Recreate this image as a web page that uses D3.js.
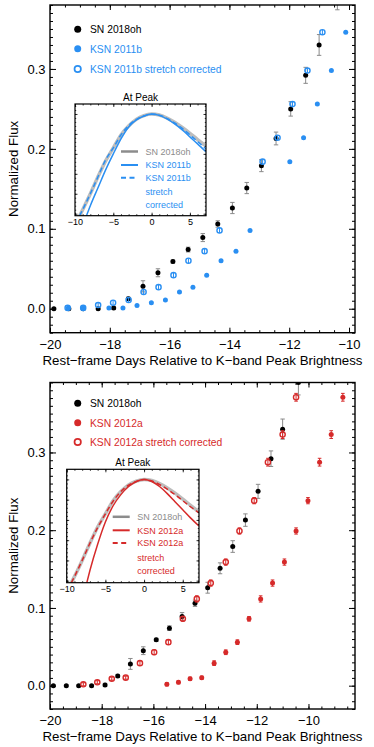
<!DOCTYPE html>
<html><head><meta charset="utf-8">
<script src="https://cdn.jsdelivr.net/npm/d3@7"></script>
<style>body{margin:0;background:#fff} svg{display:block} text{font-family:"Liberation Sans",Arial,Helvetica,sans-serif}</style>
</head><body><svg id="c" width="374" height="747"></svg>
<script>
// ---- data: SN 2018oh (black) ----
const sn18ohT   = [-19.87,-19.37,-18.89,-18.39,-17.87,-17.38,-16.89,-16.39,-15.89,-15.38,-14.89,-14.39,-13.90,-13.42,-12.93,-12.44,-11.95,-11.45,-11.00,-10.39];
const sn18ohF   = [0.000,0.000,0.000,0.000,0.001,0.0125,0.028,0.045,0.059,0.074,0.089,0.106,0.126,0.151,0.179,0.213,0.250,0.292,0.330,0.390];
const sn18ohErr = [0.001,0.001,0.001,0.001,0.002,0.002,0.007,0.005,0.002,0.003,0.005,0.004,0.007,0.007,0.0075,0.008,0.009,0.010,0.013,0.016];
// ---- KSN 2011b (blue) ----
const ksn11bT = [-19.39,-18.89,-18.03,-17.56,-17.09,-16.61,-16.14,-15.67,-15.22,-14.76,-14.28,-13.78,-13.31,-11.98,-11.52,-11.06,-10.59,-10.11];
const ksn11bF = [0.001,0.001,0.001,0.001,0.004,0.0075,0.011,0.021,0.027,0.042,0.060,0.072,0.098,0.184,0.214,0.256,0.298,0.346];
const ksn11bStretchT = [-19.41,-18.89,-18.39,-17.89,-17.37,-16.87,-16.37,-15.87,-15.37,-14.83,-14.33,-12.89,-12.39,-11.89,-11.39,-10.89];
const ksn11bStretchF = [0.001,0.001,0.0046,0.0075,0.011,0.021,0.027,0.042,0.060,0.072,0.098,0.184,0.214,0.256,0.298,0.346];
// ---- KSN 2012a (red) ----
const ksn12aT = [-15.48,-15.03,-14.58,-14.13,-13.65,-13.20,-12.75,-12.30,-11.85,-11.39,-10.93,-10.48,-10.02,-9.57,-9.12,-8.67];
const ksn12aF = [0.0018,0.0044,0.009,0.0103,0.029,0.043,0.056,0.086,0.1116,0.132,0.159,0.199,0.238,0.2875,0.323,0.371];
const ksn12aErr = [0.002,0.002,0.002,0.002,0.003,0.003,0.003,0.003,0.004,0.004,0.004,0.004,0.004,0.005,0.005,0.005];
const ksn12aStretchT = [-18.71,-18.17,-17.61,-17.07,-16.52,-15.97,-15.42,-14.86,-14.32,-13.78,-13.20,-12.67,-12.10,-11.57,-11.00,-10.48];
const ksn12aStretchF = [0.0018,0.0044,0.009,0.0103,0.029,0.043,0.056,0.086,0.1116,0.132,0.159,0.199,0.238,0.2875,0.323,0.371];
// ---- inset "At Peak" curves ----
const peak18ohT = [-9.4,-9,-8,-7,-6,-5,-4,-3,-2,-1,0,1,2,3,4,5,6,7.1];
const peak18ohF = [0.49,0.52,0.60,0.685,0.765,0.83,0.895,0.94,0.973,0.992,1.0,0.995,0.98,0.958,0.932,0.903,0.872,0.84];
const peak11bT = [-8.5,-8,-7,-6,-5,-4,-3,-2,-1,0,1,2,3,4,5,6,7.1];
const peak11bF = [0.49,0.54,0.63,0.72,0.80,0.875,0.935,0.97,0.99,1.0,0.993,0.975,0.95,0.92,0.885,0.85,0.81];
const peak11bStretchT = [-9.4,-9,-8,-7,-6,-5,-4,-3,-2,-1,0,1,2,3,4,5,6,7.1];
const peak11bStretchF = [0.49,0.52,0.60,0.685,0.77,0.83,0.895,0.942,0.972,0.99,0.998,0.994,0.978,0.955,0.928,0.895,0.862,0.825];
const peak12aT = [-7.4,-7,-6,-5,-4,-3,-2,-1,0,1,2,3,4,5,6,7.1];
const peak12aF = [0.49,0.55,0.68,0.79,0.87,0.925,0.965,0.99,1.0,0.99,0.965,0.93,0.89,0.85,0.81,0.77];
const peak12aStretchT = [-9.4,-9,-8,-7,-6,-5,-4,-3,-2,-1,0,1,2,3,4,5,6,7.1];
const peak12aStretchF = [0.49,0.52,0.60,0.685,0.762,0.83,0.893,0.94,0.972,0.99,1.0,0.992,0.975,0.952,0.925,0.895,0.865,0.835];
// ---- ticks & labels ----
const xTicks = [-20,-18,-16,-14,-12,-10];
const yTicks = [0.0,0.1,0.2,0.3];
const insetXTicks = [-10,-5,0,5];
const insetYTicks = [0.5,0.6,0.7,0.8,0.9,1.0];
const xTitle = "Rest\u2212frame Days Relative to K\u2212band Peak Brightness";
const yTitle = "Normalized Flux";

const BLUE = "#2a8ff2", RED = "#d62a2a", GREY_ERR = "#8a8a8a";
const svg = d3.select("#c");
const zip = (a,b,c) => a.map((v,i)=>({t:v,f:b[i],e:c?c[i]:0}));

function axisSet(g, x, y, box, yDom, xDom){
  const W = box.r-box.l, H = box.b-box.t;
  const xMinor = d3.range(Math.ceil(xDom[0]*2)/2, xDom[1]+1e-9, 0.5);
  const yMinor = d3.range(Math.ceil(yDom[0]*100)/100, yDom[1]+1e-9, 0.01);
  const fmtX = d3.format("d"), fmtY = d3.format(".1f");
  const style = s => { s.select(".domain").remove(); s.selectAll("line").attr("stroke","#000").attr("stroke-width",1); };
  g.append("g").attr("transform",`translate(0,${box.b})`).call(d3.axisBottom(x).tickValues(xMinor).tickSize(-2.5).tickFormat("")).call(style);
  g.append("g").attr("transform",`translate(0,${box.t})`).call(d3.axisTop(x).tickValues(xMinor).tickSize(-2.5).tickFormat("")).call(style);
  g.append("g").attr("transform",`translate(${box.l},0)`).call(d3.axisLeft(y).tickValues(yMinor).tickSize(-3).tickFormat("")).call(style);
  g.append("g").attr("transform",`translate(${box.r},0)`).call(d3.axisRight(y).tickValues(yMinor).tickSize(-3).tickFormat("")).call(style);
  const bx = g.append("g").attr("transform",`translate(0,${box.b})`).call(d3.axisBottom(x).tickValues(xTicks).tickSize(-5).tickPadding(6.8).tickFormat(fmtX)).call(style);
  g.append("g").attr("transform",`translate(0,${box.t})`).call(d3.axisTop(x).tickValues(xTicks).tickSize(-5).tickFormat("")).call(style);
  const ly = g.append("g").attr("transform",`translate(${box.l},0)`).call(d3.axisLeft(y).tickValues(yTicks).tickSize(-6).tickPadding(4.5).tickFormat(fmtY)).call(style);
  g.append("g").attr("transform",`translate(${box.r},0)`).call(d3.axisRight(y).tickValues(yTicks).tickSize(-6).tickFormat("")).call(style);
  [bx,ly].forEach(a=>a.selectAll("text").attr("font-size",13).attr("fill","#000").style("font-family",'"Liberation Sans",Arial,sans-serif'));
  g.append("rect").attr("x",box.l).attr("y",box.t).attr("width",W).attr("height",H).attr("fill","none").attr("stroke","#000").attr("stroke-width",1.4);
  g.append("text").attr("x",(box.l+box.r)/2).attr("y",box.b+32).attr("text-anchor","middle").attr("font-size",13.3).text(xTitle);
  g.append("text").attr("transform",`translate(17.5,${(box.t+box.b)/2}) rotate(-90)`).attr("text-anchor","middle").attr("font-size",13.3).text(yTitle);
}

function panel(cfg){
  const box = cfg.box;
  const g = svg.append("g");
  const x = d3.scaleLinear().domain(cfg.xDom).range([box.l, box.r]);
  const y = d3.scaleLinear().domain(cfg.yDom).range([box.b, box.t]);
  const clipId = "clip"+cfg.id;
  svg.append("defs").append("clipPath").attr("id",clipId).append("rect").attr("x",box.l).attr("y",box.t).attr("width",box.r-box.l).attr("height",box.b-box.t);
  const pg = g.append("g").attr("clip-path",`url(#${clipId})`);

  function errBars(data, color, cap){
    const eg = pg.append("g").attr("stroke",color).attr("stroke-width",1);
    data.forEach(d=>{
      eg.append("line").attr("x1",x(d.t)).attr("x2",x(d.t)).attr("y1",y(d.f-d.e)).attr("y2",y(d.f+d.e));
      [d.f-d.e,d.f+d.e].forEach(v=>eg.append("line").attr("x1",x(d.t)-cap).attr("x2",x(d.t)+cap).attr("y1",y(v)).attr("y2",y(v)));
    });
  }
  const black = zip(sn18ohT, sn18ohF, sn18ohErr);
  errBars(black, GREY_ERR, 2.2);
  pg.append("g").selectAll("circle").data(black).join("circle").attr("cx",d=>x(d.t)).attr("cy",d=>y(d.f)).attr("r",2.5).attr("fill","#000");

  const filled = zip(cfg.fT, cfg.fF, cfg.err);
  const open = zip(cfg.oT, cfg.oF, cfg.err);
  if (cfg.err) errBars(filled, cfg.color, 1.8);
  pg.append("g").selectAll("circle").data(filled).join("circle").attr("cx",d=>x(d.t)).attr("cy",d=>y(d.f)).attr("r",2.5).attr("fill",cfg.color);
  errBars(open.map(d=>({t:d.t,f:d.f,e:cfg.err?d.e:0.003})), cfg.color, cfg.err?1.8:0);
  pg.append("g").selectAll("circle").data(open).join("circle").attr("cx",d=>x(d.t)).attr("cy",d=>y(d.f)).attr("r",2.6).attr("fill","none").attr("stroke",cfg.color).attr("stroke-width",1.4);

  axisSet(g, x, y, box, cfg.yDom, cfg.xDom);

  const lg = g.append("g");
  const rows = [{lab:"SN 2018oh",c:"#000",open:false},{lab:cfg.name,c:cfg.color,open:false},{lab:cfg.name+" stretch corrected",c:cfg.color,open:true}];
  rows.forEach((r,i)=>{
    const yy = box.t + cfg.legY[i];
    if (r.open) lg.append("circle").attr("cx",77.7).attr("cy",yy).attr("r",3.2).attr("fill","none").attr("stroke",r.c).attr("stroke-width",1.7);
    else lg.append("circle").attr("cx",77.7).attr("cy",yy).attr("r",3.5).attr("fill",r.c);
    lg.append("text").attr("x",90).attr("y",yy+3.8).attr("font-size",10.3).attr("fill",r.c).text(r.lab);
  });

  const ib = cfg.inset;
  const ig = g.append("g");
  const ix = d3.scaleLinear().domain([-10,7.1]).range([ib.l, ib.r]);
  const iy = d3.scaleLinear().domain([0.49,1.05]).range([ib.b, ib.t]);
  ig.append("rect").attr("x",ib.l).attr("y",ib.t).attr("width",ib.r-ib.l).attr("height",ib.b-ib.t).attr("fill","#fff");
  const iclip = "iclip"+cfg.id;
  svg.append("defs").append("clipPath").attr("id",iclip).append("rect").attr("x",ib.l).attr("y",ib.t).attr("width",ib.r-ib.l).attr("height",ib.b-ib.t);
  const cg = ig.append("g").attr("clip-path",`url(#${iclip})`);
  const line = d3.line().x(d=>ix(d.t)).y(d=>iy(d.f)).curve(d3.curveMonotoneX);
  cg.append("path").datum(zip(peak18ohT,peak18ohF)).attr("d",line).attr("fill","none").attr("stroke","#bdbdbd").attr("stroke-width",3.5);
  cg.append("path").datum(zip(cfg.pT,cfg.pF)).attr("d",line).attr("fill","none").attr("stroke",cfg.color).attr("stroke-width",1.5);
  cg.append("path").datum(zip(cfg.psT,cfg.psF)).attr("d",line).attr("fill","none").attr("stroke",cfg.color).attr("stroke-width",1.5).attr("stroke-dasharray","5,3");
  const st = s => { s.select(".domain").remove(); s.selectAll("line").attr("stroke","#000").attr("stroke-width",0.8); };
  const ixMinor = d3.range(-10, 7.1, 1), iyMinor = d3.range(0.5, 1.05, 0.02);
  ig.append("g").attr("transform",`translate(0,${ib.b})`).call(d3.axisBottom(ix).tickValues(ixMinor).tickSize(-1.5).tickFormat("")).call(st);
  ig.append("g").attr("transform",`translate(0,${ib.t})`).call(d3.axisTop(ix).tickValues(ixMinor).tickSize(-1.5).tickFormat("")).call(st);
  ig.append("g").attr("transform",`translate(${ib.l},0)`).call(d3.axisLeft(iy).tickValues(iyMinor).tickSize(-1.2).tickFormat("")).call(st);
  ig.append("g").attr("transform",`translate(${ib.r},0)`).call(d3.axisRight(iy).tickValues(iyMinor).tickSize(-1.2).tickFormat("")).call(st);
  const ibx = ig.append("g").attr("transform",`translate(0,${ib.b})`).call(d3.axisBottom(ix).tickValues(insetXTicks).tickSize(-3).tickPadding(3).tickFormat(d3.format("d"))).call(st);
  ibx.selectAll("text").attr("font-size",9).attr("fill","#000").style("font-family",'"Liberation Sans",Arial,sans-serif');
  ig.append("g").attr("transform",`translate(0,${ib.t})`).call(d3.axisTop(ix).tickValues(insetXTicks).tickSize(-3).tickFormat("")).call(st);
  ig.append("g").attr("transform",`translate(${ib.l},0)`).call(d3.axisLeft(iy).tickValues(insetYTicks).tickSize(-2.5).tickFormat("")).call(st);
  ig.append("g").attr("transform",`translate(${ib.r},0)`).call(d3.axisRight(iy).tickValues(insetYTicks).tickSize(-2.5).tickFormat("")).call(st);
  ig.append("rect").attr("x",ib.l).attr("y",ib.t).attr("width",ib.r-ib.l).attr("height",ib.b-ib.t).attr("fill","none").attr("stroke","#000").attr("stroke-width",1.2);
  ig.append("text").attr("x",(ib.l+ib.r)/2).attr("y",ib.t-3).attr("text-anchor","middle").attr("font-size",10).text("At Peak");
  const il = [{lab:"SN 2018oh",c:"#8c8c8c",w:2.5,dash:null},{lab:cfg.name,c:cfg.color,w:2,dash:null},{lab:cfg.name,c:cfg.color,w:2,dash:"5,3.5"},{lab:"stretch",c:cfg.color},{lab:"corrected",c:cfg.color}];
  const iRows = [47.5,61,73.8,88,101.2];
  il.forEach((r,i)=>{
    const yy = ib.t + iRows[i];
    if (r.w) ig.append("line").attr("x1",ib.l+46).attr("x2",ib.l+63).attr("y1",yy).attr("y2",yy).attr("stroke",r.c).attr("stroke-width",r.w).attr("stroke-dasharray",r.dash);
    ig.append("text").attr("x",ib.l+70.5).attr("y",yy+3.2).attr("font-size",9).attr("fill",r.c).text(r.lab);
  });
}

panel({id:1, box:{l:50,r:355,t:5,b:332.7}, xDom:[-20,-9.8], yDom:[-0.03,0.38], color:BLUE, name:"KSN 2011b",
  fT:ksn11bT, fF:ksn11bF, oT:ksn11bStretchT, oF:ksn11bStretchF, err:null,
  pT:peak11bT, pF:peak11bF, psT:peak11bStretchT, psF:peak11bStretchF,
  legY:[24.3,43.7,64], inset:{l:75,r:206,t:104,b:215.7}});
panel({id:2, box:{l:50,r:355,t:382.5,b:709}, xDom:[-20,-8.2], yDom:[-0.03,0.39], color:RED, name:"KSN 2012a",
  fT:ksn12aT, fF:ksn12aF, oT:ksn12aStretchT, oF:ksn12aStretchF, err:ksn12aErr,
  pT:peak12aT, pF:peak12aF, psT:peak12aStretchT, psF:peak12aStretchF,
  legY:[20.8,40.2,59.5], inset:{l:66.7,r:199,t:469.3,b:582.7}});
</script></body></html>
